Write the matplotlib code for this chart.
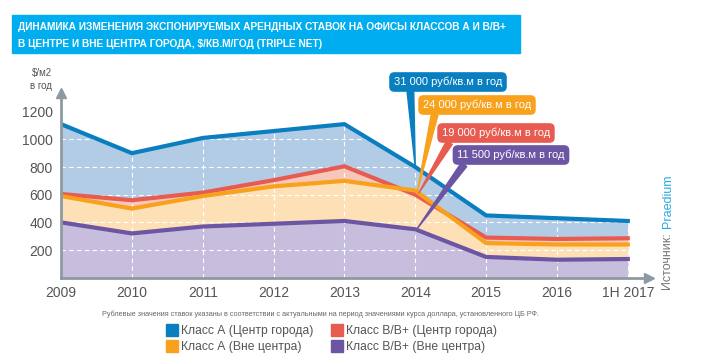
import matplotlib
matplotlib.use("Agg")
import matplotlib.pyplot as plt
from matplotlib.patches import Rectangle
from matplotlib.lines import Line2D

years = ["2009", "2010", "2011", "2012", "2013", "2014", "2015", "2016", "1H 2017"]
class_a_center = [1110, 900, 1010, 1060, 1110, 800, 450, 430, 410]
class_b_center = [605, 560, 615, 705, 805, 600, 290, 280, 285]
class_a_outside = [590, 500, 590, 660, 700, 630, 250, 240, 240]
class_b_outside = [400, 320, 370, 390, 410, 350, 150, 130, 135]

legend_labels = ["Класс А (Центр города)", "Класс А (Вне центра)",
                 "Класс В/В+ (Центр города)", "Класс В/В+ (Вне центра)"]
callouts = ["31 000 руб/кв.м в год", "24 000 руб/кв.м в год",
            "19 000 руб/кв.м в год", "11 500 руб/кв.м в год"]

blue, blue_f = "#0a7fc0", "#b3cce5"
red, red_f = "#e85b50", "#f7c8ba"
orange, orange_f = "#f8a11c", "#fde0b6"
purple, purple_f = "#6c55a2", "#c7bedd"
axis_grey = "#8e9aa2"
text_grey = "#555555"

plt.rcParams["font.family"] = ["Liberation Sans", "DejaVu Sans"]

fig = plt.figure(figsize=(7.13, 3.64), dpi=100)
ax = fig.add_axes([0.0856, 0.2371, 0.8247, 0.5074])

x = list(range(len(years)))
ax.fill_between(x, class_a_center, 0, color=blue_f, lw=0, zorder=1)
ax.fill_between(x, class_b_center, 0, color=red_f, lw=0, zorder=1.1)
ax.fill_between(x, class_a_outside, 0, color=orange_f, lw=0, zorder=1.2)
ax.fill_between(x, class_b_outside, 0, color=purple_f, lw=0, zorder=1.3)

ax.plot(x, class_b_center, color=red, lw=3, zorder=3)
ax.plot(x, class_a_outside, color=orange, lw=3, zorder=3.1)
ax.plot(x, class_b_outside, color=purple, lw=3, zorder=3.2)
ax.plot(x, class_a_center, color=blue, lw=3, zorder=3.3)

ax.set_xlim(0, 8.3)
ax.set_ylim(0, 1335)
ax.set_xticks(x)
ax.set_xticklabels(years)
ax.set_yticks([200, 400, 600, 800, 1000, 1200])
ax.set_axisbelow(False)
ax.grid(True, color="white", ls=(0, (4, 3)), lw=0.8)
ax.tick_params(length=0, labelsize=10, colors=text_grey, pad=6)
for s in ["top", "right"]:
    ax.spines[s].set_visible(False)
for s in ["left", "bottom"]:
    ax.spines[s].set_color(axis_grey)
    ax.spines[s].set_linewidth(2)
    ax.spines[s].set_zorder(4)
ax.plot(1, 0, ">", color=axis_grey, ms=7, transform=ax.transAxes, clip_on=False, zorder=4)
ax.plot(0, 1, "^", color=axis_grey, ms=7, transform=ax.transAxes, clip_on=False, zorder=4)

# callouts
specs = [
    (callouts[0], blue, (5, 800), (448, 282), 0.15),
    (callouts[1], orange, (5.03, 625), (477, 259), 0.12),
    (callouts[2], red, (5.05, 612), (496, 231), 0.1),
    (callouts[3], purple, (5.02, 350), (511, 209), 0.1),
]
for txt, col, xy, pos, rp in specs:
    ax.annotate(txt, xy=xy, xytext=pos, textcoords="figure pixels",
                ha="center", va="center", fontsize=8, color="white", zorder=6,
                bbox=dict(boxstyle="round,pad=0.35,rounding_size=0.4", fc=col, ec=col),
                arrowprops=dict(arrowstyle="wedge,tail_width=0.6", fc=col, ec=col,
                                relpos=(rp, 0.1), shrinkA=0, shrinkB=0))

# title banner
fig.patches.append(Rectangle((12 / 713, 1 - 53 / 364), 508 / 713, 38 / 364,
                             transform=fig.transFigure, color="#00aeef", zorder=0))
fig.text(18 / 713, 1 - 27 / 364,
         "ДИНАМИКА ИЗМЕНЕНИЯ ЭКСПОНИРУЕМЫХ АРЕНДНЫХ СТАВОК НА ОФИСЫ КЛАССОВ А И В/В+",
         color="white", fontsize=7.3, fontweight="bold", va="center")
fig.text(18 / 713, 1 - 44 / 364,
         "В ЦЕНТРЕ И ВНЕ ЦЕНТРА ГОРОДА, $/КВ.М/ГОД (TRIPLE NET)",
         color="white", fontsize=7.3, fontweight="bold", va="center")

# y unit label
fig.text(52 / 713, 1 - 73 / 364, "$/м2", ha="right", va="center", fontsize=7, color=text_grey)
fig.text(52 / 713, 1 - 86 / 364, "в год", ha="right", va="center", fontsize=7, color=text_grey)

# source
fig.text(668 / 713, 74 / 364, "Источник: ", rotation=90, ha="center", va="bottom",
         fontsize=9, color="#777777")
fig.text(668 / 713, 136 / 364, "Praedium", rotation=90, ha="center", va="bottom",
         fontsize=9, color="#29abe2")

# footnote
fig.text(321 / 713, 1 - 314 / 364,
         "Рублевые значения ставок указаны в соответствии с актуальными на период значениями курса доллара, установленного ЦБ РФ.",
         ha="center", va="center", fontsize=5.2, color="#666666")

handles = [Line2D([], [], ls="", marker="s", ms=8.5, color=c) for c in [blue, orange, red, purple]]
fig.legend(handles, legend_labels, ncol=2, loc="center", bbox_to_anchor=(0.465, 1 - 339 / 364),
           frameon=False, fontsize=8.7, labelcolor=text_grey, handletextpad=0.3,
           columnspacing=1.4, labelspacing=0.35, handlelength=1)

fig.savefig("out.png", dpi=100)
